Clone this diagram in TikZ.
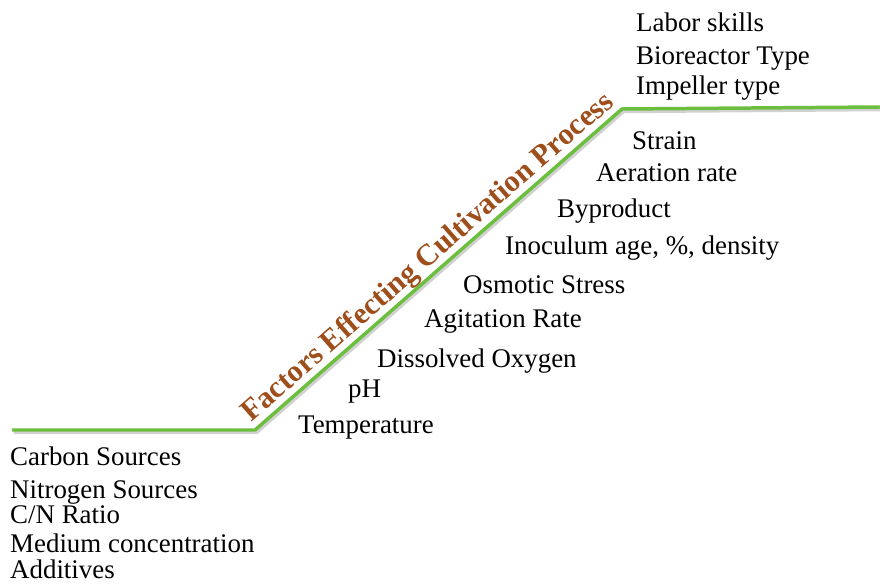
\documentclass[tikz,border=0pt]{standalone}
\usepackage{fontspec}
\setmainfont{Liberation Serif}
\definecolor{slopegreen}{RGB}{108,190,62}
\definecolor{titlebrown}{RGB}{158,78,26}
\begin{document}
\begin{tikzpicture}[x=1bp,y=-1bp,
    factor/.style={anchor=base west,inner sep=0pt,font=\fontsize{27}{30}\selectfont},
    stage/.style={line width=3.5pt,slopegreen,line join=round},
    shadowline/.style={line width=3.5pt,black!18,line join=round}]

    \useasboundingbox (0,0) rectangle (880,586);

    % Linea di processo
    \coordinate (start) at (12,430);
    \coordinate (low) at (255,430);
    \coordinate (high) at (622,109);
    \coordinate (stop) at (880,107);
    \draw[shadowline,transform canvas={shift={(1.5bp,-2.5bp)}}] (start) -- (low) -- (high) -- (stop);
    \draw[stage] (start) -- (low) -- (high) -- (stop);

    % Titolo lungo la salita
    \path (low) -- (high) node[midway,sloped,above=0pt,inner sep=1pt,text=titlebrown,
        font=\fontsize{30.5}{32}\selectfont\bfseries] (title) {Factors Effecting Cultivation Process};

    % Fattori iniziali
    \foreach \y/\txt [count=\i] in {465/Carbon Sources,498/Nitrogen Sources,523/{C/N Ratio},
        552/Medium concentration,578/Additives}{
        \node[factor] (base\i) at (10,\y) {\txt};
    }

    % Fattori lungo la salita
    \foreach \x/\y/\txt [count=\i] in {298/433/Temperature,348/397/pH,377/367/Dissolved Oxygen,
        424/327/Agitation Rate,463/293/Osmotic Stress,505/255/{Inoculum age, \%, density},
        557/218/Byproduct,596/182/Aeration rate,632/150/Strain}{
        \node[factor] (slope\i) at (\x,\y) {\txt};
    }

    % Fattori finali
    \foreach \y/\txt [count=\i] in {32/Labor skills,65/Bioreactor Type,95/Impeller type}{
        \node[factor] (top\i) at (636,\y) {\txt};
    }

\end{tikzpicture}
\end{document}
